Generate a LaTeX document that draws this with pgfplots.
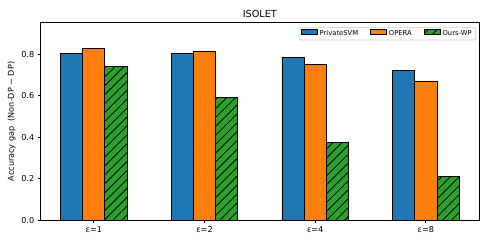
\documentclass[border=0pt]{standalone}
\usepackage{fontspec}
\setmainfont{DejaVu Sans}
\usepackage{pgfplots}
\pgfplotsset{compat=1.18}
\usetikzlibrary{patterns.meta}
\definecolor{c0}{HTML}{1F77B4}
\definecolor{c1}{HTML}{FF7F0E}
\definecolor{c2}{HTML}{2CA02C}
\definecolor{legframe}{HTML}{CCCCCC}
\begin{document}
\begin{tikzpicture}
\begin{axis}[
  scale only axis, width=438.3bp, height=197.6bp,
  xmin=-0.48, xmax=3.48, ymin=0, ymax=0.9516,
  clip=false,
  axis lines=box,
  xtick={0,1,2,3}, xticklabels={ε=1,ε=2,ε=4,ε=8},
  ytick={0,0.2,0.4,0.6,0.8},
  tick align=outside, xtick pos=bottom, ytick pos=left,
  major tick length=3bp,
  tick style={black, line width=0.8bp},
  axis line style={black, line width=0.8bp},
  ticklabel style={font=\fontsize{8.1bp}{9.7bp}\selectfont},
  yticklabel style={/pgf/number format/.cd, fixed, fixed zerofill, precision=1, assume math mode=true},
  ylabel={Accuracy gap\ \ (Non-DP − DP)},
  ylabel style={at={(axis description cs:-0.0662,0.5)}, anchor=center, rotate=0, font=\fontsize{8.1bp}{9.7bp}\selectfont},
  legend columns=3,
  legend cell align=left,
  legend style={at={(axis description cs:0.993,0.978)}, anchor=north east,
    font=\fontsize{6.8bp}{8bp}\selectfont, draw=legframe, line width=0.6bp,
    rounded corners=1.5bp, inner xsep=2bp, inner ysep=1bp,
    /tikz/every even column/.append style={column sep=10bp}},
  legend image code/.code={\draw[#1, sharp corners] (0bp,-0.3bp) rectangle (16bp,4.3bp);},
]
\addplot[ybar, bar width=0.2, bar shift=-0.2, fill=c0, draw=black, line width=0.8bp]
  coordinates {(0,0.805) (1,0.803) (2,0.786) (3,0.720)};
\addlegendentry{PrivateSVM}
\addplot[ybar, bar width=0.2, bar shift=0, fill=c1, draw=black, line width=0.8bp]
  coordinates {(0,0.829) (1,0.811) (2,0.752) (3,0.671)};
\addlegendentry{OPERA}
\addplot[ybar, bar width=0.2, bar shift=0.2, fill=c2, draw=black, line width=0.8bp,
  postaction={pattern={Lines[angle=45,distance=6.3bp,line width=0.8bp]}, pattern color=black}]
  coordinates {(0,0.740) (1,0.591) (2,0.373) (3,0.212)};
\addlegendentry{Ours-WP}
\node[anchor=base, inner sep=0pt, font=\fontsize{9.7bp}{11bp}\selectfont] at (rel axis cs:0.5,1.0238) {ISOLET};
\end{axis}
\pgfresetboundingbox
\path[use as bounding box] (-40.7bp,-23.7bp) rectangle (447.3bp,220.3bp);
\end{tikzpicture}
\end{document}
